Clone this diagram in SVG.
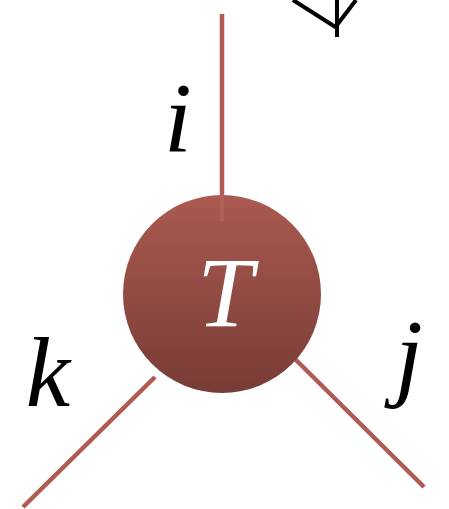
<svg xmlns="http://www.w3.org/2000/svg" width="449" height="509" viewBox="0 0 449 509">
<defs>
<linearGradient id="g" x1="0" y1="0" x2="0" y2="1">
<stop offset="0" stop-color="#ab5a50"/>
<stop offset="1" stop-color="#773c36"/>
</linearGradient>
<style>
.leg{stroke:#b05a52;stroke-width:4.5;fill:none}
.lbl{font-family:"Liberation Serif",serif;font-style:italic;font-size:100px;fill:#000}
.blk{stroke:#000;stroke-width:4;fill:none}
</style>
</defs>
<g id="partial-top-right">
<line class="blk" x1="293" y1="0" x2="337" y2="28"/>
<line class="blk" x1="337" y1="0" x2="337" y2="37"/>
<line class="blk" x1="337" y1="25" x2="356" y2="0"/>
</g>
<g id="connectors">
<line class="leg" x1="222" y1="14" x2="222" y2="196"/>
<line class="leg" x1="155" y1="377" x2="23" y2="507"/>
<line class="leg" x1="293" y1="357" x2="424" y2="487"/>
</g>
<g id="node-T">
<circle cx="222" cy="294" r="99" fill="url(#g)"/>
<line x1="222" y1="194" x2="222" y2="221" stroke="#b86a62" stroke-width="4" opacity="0.5"/>
<text x="225" y="326" text-anchor="middle" class="lbl" style="fill:#fff">T</text>
</g>
<g id="labels">
<text x="178" y="151" text-anchor="middle" class="lbl">i</text>
<text x="48" y="406" text-anchor="middle" class="lbl">k</text>
<text x="409" y="388" text-anchor="middle" class="lbl">j</text>
</g>
</svg>
